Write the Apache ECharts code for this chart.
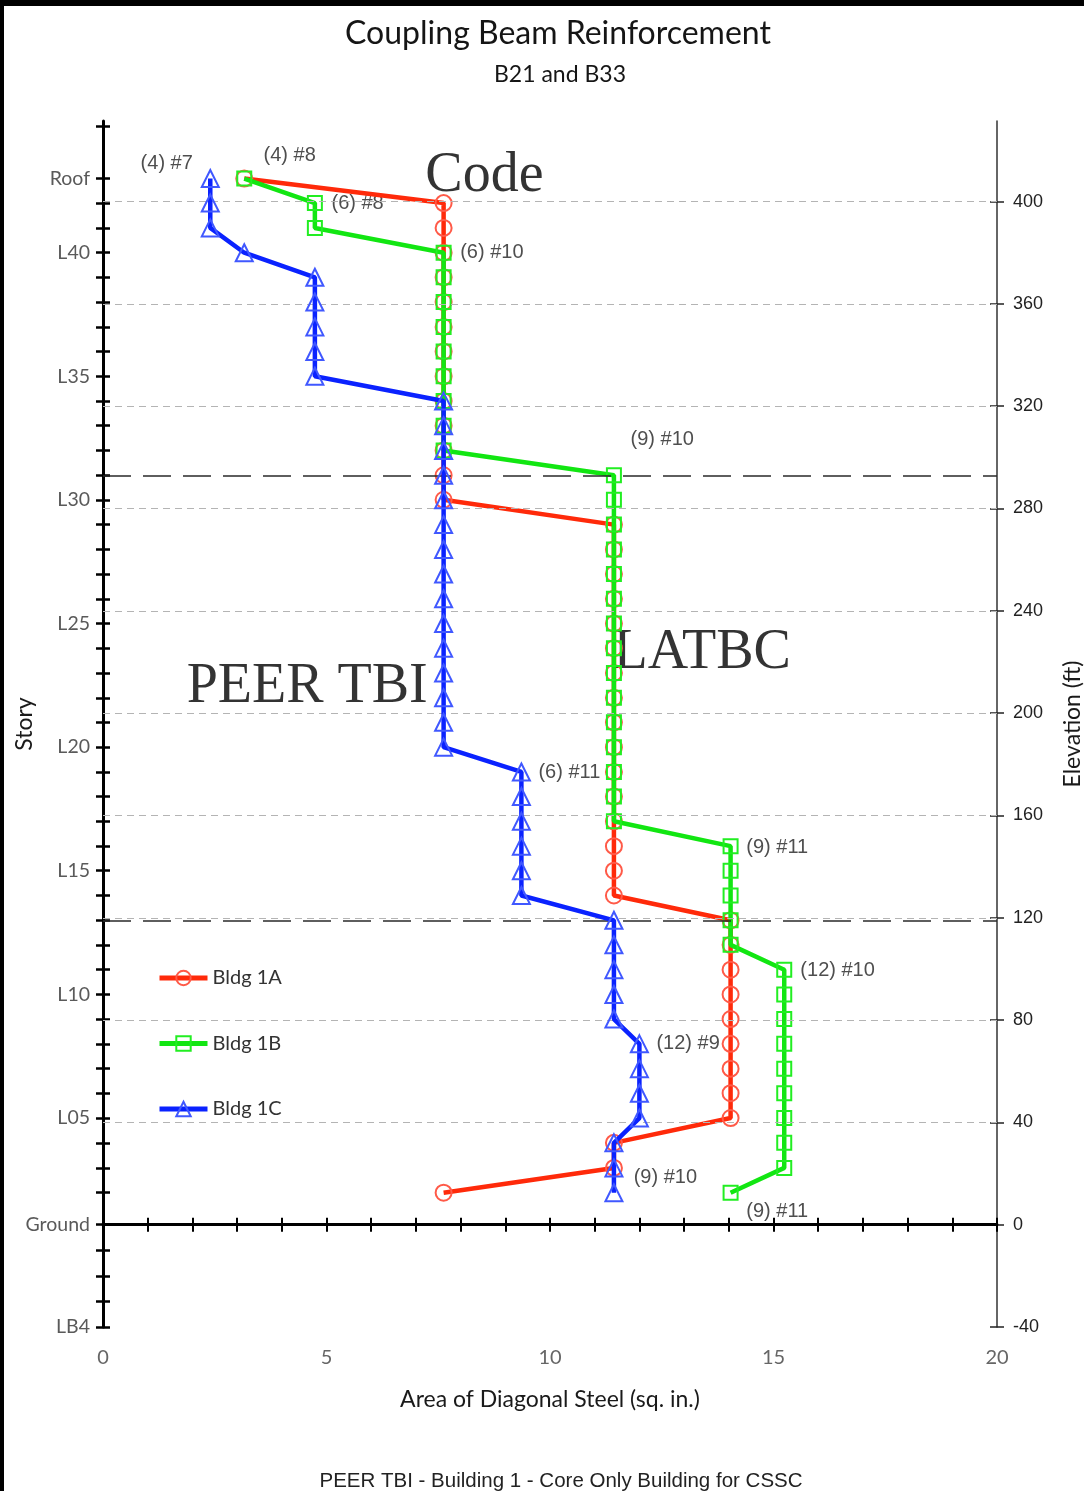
<!DOCTYPE html>
<html>
<head>
<meta charset="utf-8">
<title>Coupling Beam Reinforcement</title>
<script src="https://cdn.jsdelivr.net/npm/echarts@6/dist/echarts.min.js"></script>
<style>
  html, body { margin: 0; padding: 0; background: #fff; }
  #chart { width: 1084px; height: 1491px; }
</style>
</head>
<body>
<div id="chart"></div>
<script>
// Story levels (bottom to top) and their elevations above ground (ft)
const storyNames = [
  'L02','L03','L04','L05','L06','L07','L08','L09','L10','L11',
  'L12','L13','L14','L15','L16','L17','L18','L19','L20','L21',
  'L22','L23','L24','L25','L26','L27','L28','L29','L30','L31',
  'L32','L33','L34','L35','L36','L37','L38','L39','L40','L41',
  'L42','Roof'
];
const storyElev = [
  12.5, 22.2, 32.0, 41.7, 51.4, 61.0, 70.7, 80.4, 90.0, 99.7,
  109.4, 119.0, 128.7, 138.4, 148.0, 157.7, 167.4, 177.0, 186.7, 196.4,
  206.0, 215.7, 225.4, 235.0, 244.7, 254.4, 264.0, 273.7, 283.4, 293.0,
  302.7, 312.4, 322.0, 331.7, 341.4, 351.0, 360.7, 370.4, 380.0, 389.7,
  399.4, 409.0
];

// Area of diagonal steel per story (sq. in.), same order as storyNames
const bldg1A = [
  7.62, 11.43, 11.43, 14.04, 14.04, 14.04, 14.04, 14.04, 14.04, 14.04,
  14.04, 14.04, 11.43, 11.43, 11.43, 11.43, 11.43, 11.43, 11.43, 11.43,
  11.43, 11.43, 11.43, 11.43, 11.43, 11.43, 11.43, 11.43, 7.62, 7.62,
  7.62, 7.62, 7.62, 7.62, 7.62, 7.62, 7.62, 7.62, 7.62, 7.62,
  7.62, 3.16
];
const bldg1B = [
  14.04, 15.24, 15.24, 15.24, 15.24, 15.24, 15.24, 15.24, 15.24, 15.24,
  14.04, 14.04, 14.04, 14.04, 14.04, 11.43, 11.43, 11.43, 11.43, 11.43,
  11.43, 11.43, 11.43, 11.43, 11.43, 11.43, 11.43, 11.43, 11.43, 11.43,
  7.62, 7.62, 7.62, 7.62, 7.62, 7.62, 7.62, 7.62, 7.62, 4.74,
  4.74, 3.16
];
const bldg1C = [
  11.43, 11.43, 11.43, 12.00, 12.00, 12.00, 12.00, 11.43, 11.43, 11.43,
  11.43, 11.43, 9.36, 9.36, 9.36, 9.36, 9.36, 9.36, 7.62, 7.62,
  7.62, 7.62, 7.62, 7.62, 7.62, 7.62, 7.62, 7.62, 7.62, 7.62,
  7.62, 7.62, 7.62, 4.74, 4.74, 4.74, 4.74, 4.74, 3.16, 2.40,
  2.40, 2.40
];

// Left axis: labelled stories and all story ticks (incl. basements)
const storyLabelNames = ['LB4','Ground','L05','L10','L15','L20','L25','L30','L35','L40','Roof'];
const storyLabelElev  = [-40, 0, 41.7, 90.0, 138.4, 186.7, 235.0, 283.4, 331.7, 380.0, 409.0];
const basementElev = [-40, -30, -20, -10, 0];
const upperTickElev = [429.3];

// Right axis: elevation ticks (ft)
const elevTicks = [-40, 0, 40, 80, 120, 160, 200, 240, 280, 320, 360, 400];
// Zone boundary levels (L13 and L31)
const zoneElev = [119.0, 293.0];

// Bar-size callouts: text, area (sq. in.), elevation (ft)
const noteText = ['(4) #7','(4) #8','(6) #8','(6) #10','(9) #10','(6) #11','(9) #11','(12) #10','(12) #9','(9) #10','(9) #11'];
const noteX    = [0.83, 3.58, 5.10, 7.98, 11.79, 9.73, 14.38, 15.59, 12.37, 11.86, 14.38];
const noteElev = [414.8, 417.9, 399.2, 379.9, 307.0, 176.9, 147.5, 99.2, 70.7, 18.4, 5.1];

// Design-basis captions
const basisText = ['Code', 'LATBC', 'PEER TBI'];
const basisX    = [7.20, 11.41, 1.86];
const basisElev = [409.8, 223.4, 210.2];

const ELEV_MIN = -40, ELEV_MAX = 431.5;

const chart = echarts.init(document.getElementById('chart'), null, { renderer: 'canvas' });

const geo = '"Lato", "Open Sans", "DejaVu Sans", sans-serif';
const arial = '"Liberation Sans", Arial, sans-serif';

function pairs(vals) { return storyElev.map((e, i) => [vals[i], e]); }

const storyTicks = basementElev.concat(storyElev, upperTickElev);

function storyLabel(v) {
  for (let i = 0; i < storyLabelElev.length; i++) {
    if (Math.abs(storyLabelElev[i] - v) < 0.01) return storyLabelNames[i];
  }
  return '';
}

const guideLines = []
  .concat(elevTicks.filter(v => v > 0).map(v => ({
    yAxis: v, lineStyle: { color: '#b4b4b4', width: 1.2, type: [7, 5] }
  })))
  .concat(zoneElev.map(v => ({
    yAxis: v, lineStyle: { color: '#2a2a2a', width: 1.5, type: [28, 12] }
  })))
  .concat([{ yAxis: 0, lineStyle: { color: '#000', width: 3, type: 'solid' } }]);

function lineSeries(name, vals, lineColor, markColor, symbol, size, z) {
  return {
    name: name,
    type: 'line',
    data: pairs(vals),
    z: z,
    symbol: symbol,
    symbolSize: size,
    showAllSymbol: true,
    lineStyle: { color: lineColor, width: 4.5 },
    itemStyle: { color: 'rgba(255,255,255,0)', borderColor: markColor, borderWidth: 2 },
    emphasis: { disabled: true },
    animation: false
  };
}

const option = {
  animation: false,
  backgroundColor: '#fff',
  title: [
    {
      text: 'Coupling Beam Reinforcement',
      left: 553, top: 13, textAlign: 'center',
      textStyle: { fontFamily: geo, fontSize: 32, fontWeight: 'normal', color: '#151515' }
    },
    {
      text: 'B21 and B33',
      left: 555, top: 58, textAlign: 'center',
      textStyle: { fontFamily: geo, fontSize: 23, fontWeight: 'normal', color: '#151515' }
    },
    {
      text: 'PEER TBI - Building 1 - Core Only Building for CSSC',
      left: 556, top: 1466, textAlign: 'center',
      textStyle: { fontFamily: arial, fontSize: 20.5, fontWeight: 'normal', color: '#222' }
    }
  ],
  graphic: [
    { type: 'rect', shape: { x: 0, y: 0, width: 1084, height: 6 }, style: { fill: '#000' }, z: 100 },
    { type: 'rect', shape: { x: 0, y: 0, width: 4, height: 1491 }, style: { fill: '#000' }, z: 100 }
  ],
  legend: {
    orient: 'vertical',
    left: 123, top: 940,
    padding: [28, 30, 22, 34],
    backgroundColor: '#fff',
    itemWidth: 48, itemHeight: 18, itemGap: 45.5,
    data: ['Bldg 1A', 'Bldg 1B', 'Bldg 1C'],
    lineStyle: { width: 5 },
    textStyle: { fontFamily: geo, fontSize: 20, color: '#333' },
    selectedMode: false
  },
  grid: { left: 103, right: 87, top: 121, bottom: 164, outerBoundsMode: 'none', containLabel: false },
  xAxis: [
    {
      type: 'value', min: 0, max: 20, interval: 1,
      name: 'Area of Diagonal Steel (sq. in.)',
      nameLocation: 'middle', nameGap: 61, nameMoveOverlap: false,
      nameTextStyle: { fontFamily: geo, fontSize: 23, color: '#1a1a1a' },
      axisLine: { show: true, lineStyle: { color: '#000', width: 3 } },
      axisTick: { show: true, inside: false, length: 7, lineStyle: { color: '#000', width: 2 } },
      axisLabel: {
        margin: 21, fontFamily: geo, fontSize: 20, color: '#666',
        formatter: v => (v % 5 === 0 ? String(v) : '')
      },
      splitLine: { show: false }
    },
    {
      type: 'value', min: 0, max: 20, interval: 1, position: 'bottom',
      axisLine: { show: false },
      axisTick: { show: true, inside: true, length: 7, lineStyle: { color: '#000', width: 2 } },
      axisLabel: { show: false },
      splitLine: { show: false }
    }
  ],
  yAxis: [
    {
      type: 'value', position: 'left', min: ELEV_MIN, max: ELEV_MAX,
      name: 'Story', nameLocation: 'middle', nameGap: 67, nameRotate: 90, nameMoveOverlap: false,
      nameTextStyle: { fontFamily: geo, fontSize: 23, color: '#1a1a1a' },
      axisLine: { show: true, lineStyle: { color: '#000', width: 3 } },
      axisTick: { show: true, inside: false, length: 7, customValues: storyTicks, lineStyle: { color: '#000', width: 2.5 } },
      axisLabel: {
        show: true, margin: 13, customValues: storyLabelElev,
        fontFamily: geo, fontSize: 19.5, color: '#5a5a5a',
        formatter: storyLabel
      },
      splitLine: { show: false }
    },
    {
      type: 'value', position: 'left', min: ELEV_MIN, max: ELEV_MAX,
      axisLine: { show: false },
      axisTick: { show: true, inside: true, length: 7, customValues: storyTicks, lineStyle: { color: '#000', width: 2.5 } },
      axisLabel: { show: false },
      splitLine: { show: false }
    },
    {
      type: 'value', position: 'right', min: ELEV_MIN, max: ELEV_MAX,
      name: 'Elevation (ft)', nameLocation: 'middle', nameGap: 64, nameRotate: 90, nameMoveOverlap: false,
      nameTextStyle: { fontFamily: geo, fontSize: 23, color: '#1a1a1a' },
      axisLine: { show: true, lineStyle: { color: '#333', width: 1.5 } },
      axisTick: { show: true, inside: false, length: 7, customValues: elevTicks, lineStyle: { color: '#222', width: 1.5 } },
      axisLabel: {
        show: true, margin: 16, customValues: elevTicks,
        fontFamily: arial, fontSize: 18, color: '#222'
      },
      splitLine: { show: false }
    },
    {
      type: 'value', position: 'right', min: ELEV_MIN, max: ELEV_MAX,
      axisLine: { show: false },
      axisTick: { show: true, inside: true, length: 7, customValues: elevTicks, lineStyle: { color: '#222', width: 1.5 } },
      axisLabel: { show: false },
      splitLine: { show: false }
    }
  ],
  series: [
    {
      name: 'callouts',
      type: 'scatter',
      z: 1,
      silent: true,
      symbolSize: 1,
      itemStyle: { color: 'rgba(0,0,0,0)' },
      data: noteText.map((t, i) => ({ value: [noteX[i], noteElev[i]], name: t })),
      label: {
        show: true, position: 'right', distance: 0,
        formatter: p => p.name,
        fontFamily: arial, fontSize: 20, color: '#222'
      },
      markLine: {
        silent: true,
        symbol: ['none', 'none'],
        label: { show: false },
        emphasis: { disabled: true },
        data: guideLines
      }
    },
    {
      name: 'basis',
      type: 'scatter',
      z: 1,
      silent: true,
      symbolSize: 1,
      itemStyle: { color: 'rgba(0,0,0,0)' },
      data: basisText.map((t, i) => ({ value: [basisX[i], basisElev[i]], name: t })),
      label: {
        show: true, position: 'right', distance: 0,
        formatter: p => p.name,
        fontFamily: '"Liberation Serif", "Times New Roman", serif', fontSize: 56, color: '#000'
      }
    },
    lineSeries('Bldg 1A', bldg1A, '#ff2a0a', '#ff5a48', 'circle', 16, 3),
    lineSeries('Bldg 1B', bldg1B, '#12e612', '#22ee22', 'rect', 14, 4),
    lineSeries('Bldg 1C', bldg1C, '#0a22ff', '#4058ff', 'triangle', 17, 5)
  ]
};

chart.setOption(option);
</script>
</body>
</html>
